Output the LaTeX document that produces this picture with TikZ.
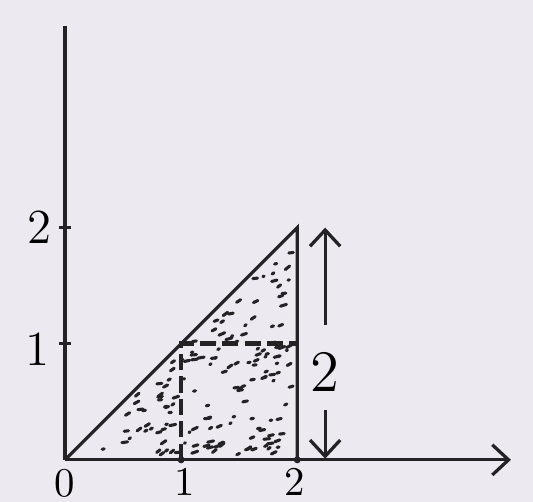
\documentclass[tikz,border=0pt]{standalone}
\usepackage{amsmath}
\usepackage{xcolor}
\usepackage{tikz}
\usetikzlibrary{arrows.meta}
\definecolor{paper}{RGB}{236,233,240}
\definecolor{pencil}{RGB}{35,35,38}

\begin{document}
\begin{tikzpicture}[scale=1.0, line width=0.8pt, draw=pencil, >={Straight Barb[length=1.4mm,width=2.6mm]}]
  \fill[paper] (-0.56,-0.36) rectangle (4.03,3.96);
  \useasboundingbox (-0.56,-0.36) rectangle (4.03,3.96);
  \coordinate (O) at (0,0);
  \coordinate (A) at (2,0);
  \coordinate (B) at (2,2);
  \coordinate (M) at (1,0);
  \coordinate (P) at (1,1);
  \coordinate (Q) at (2,1);
  \coordinate (ytop) at (0,3.74);
  \coordinate (xend) at (3.84,0);
  % stipple inside the triangle
  \pgfmathsetseed{23}
  \foreach \i in {1,...,150}{
    \pgfmathsetmacro{\u}{rnd}
    \pgfmathsetmacro{\v}{rnd}
    \pgfmathsetmacro{\px}{0.08+1.86*max(\u,\v)}
    \pgfmathsetmacro{\py}{0.04+1.86*min(\u,\v)}
    \pgfmathsetmacro{\ang}{5+35*rnd}
    \pgfmathsetmacro{\len}{0.01+0.045*rnd}
    \draw[pencil, line width=0.75pt, line cap=round] (\px,\py) -- ++(\ang:\len);
  }
  % axes
  \draw[pencil] (O) -- (ytop);
  \draw[pencil,->] (O) -- (xend);
  \foreach \t in {1,2}{
    \draw[pencil] (-0.05,\t) -- (0.05,\t);
    \fill[pencil] (\t,0) circle (0.03);
  }
  % triangle and square
  \draw[pencil] (O) -- (B) -- (A);
  \draw[pencil, line width=1.1pt, dash pattern=on 4pt off 1.5pt] (M) -- (P) -- (Q);
  % labels
  \node[anchor=north, inner sep=0pt] (l0) at (0,-0.07) {0};
  \node[anchor=north, inner sep=0pt] (lx1) at (1.03,-0.06) {1};
  \node[anchor=north, inner sep=0pt] (lx2) at (1.98,-0.06) {2};
  \node[font=\large] (ly1) at (-0.24,0.95) {1};
  \node[font=\large] (ly2) at (-0.22,2) {2};
  % height
  \coordinate (dimtop) at (2.24,2);
  \coordinate (dimbot) at (2.24,0.01);
  \node[font=\Large] (dim) at (2.24,0.76) {2};
  \draw[pencil,->] ([yshift=3pt]dim.north) -- (dimtop);
  \draw[pencil,->] ([yshift=-1pt]dim.south) -- (dimbot);
\end{tikzpicture}
\end{document}
